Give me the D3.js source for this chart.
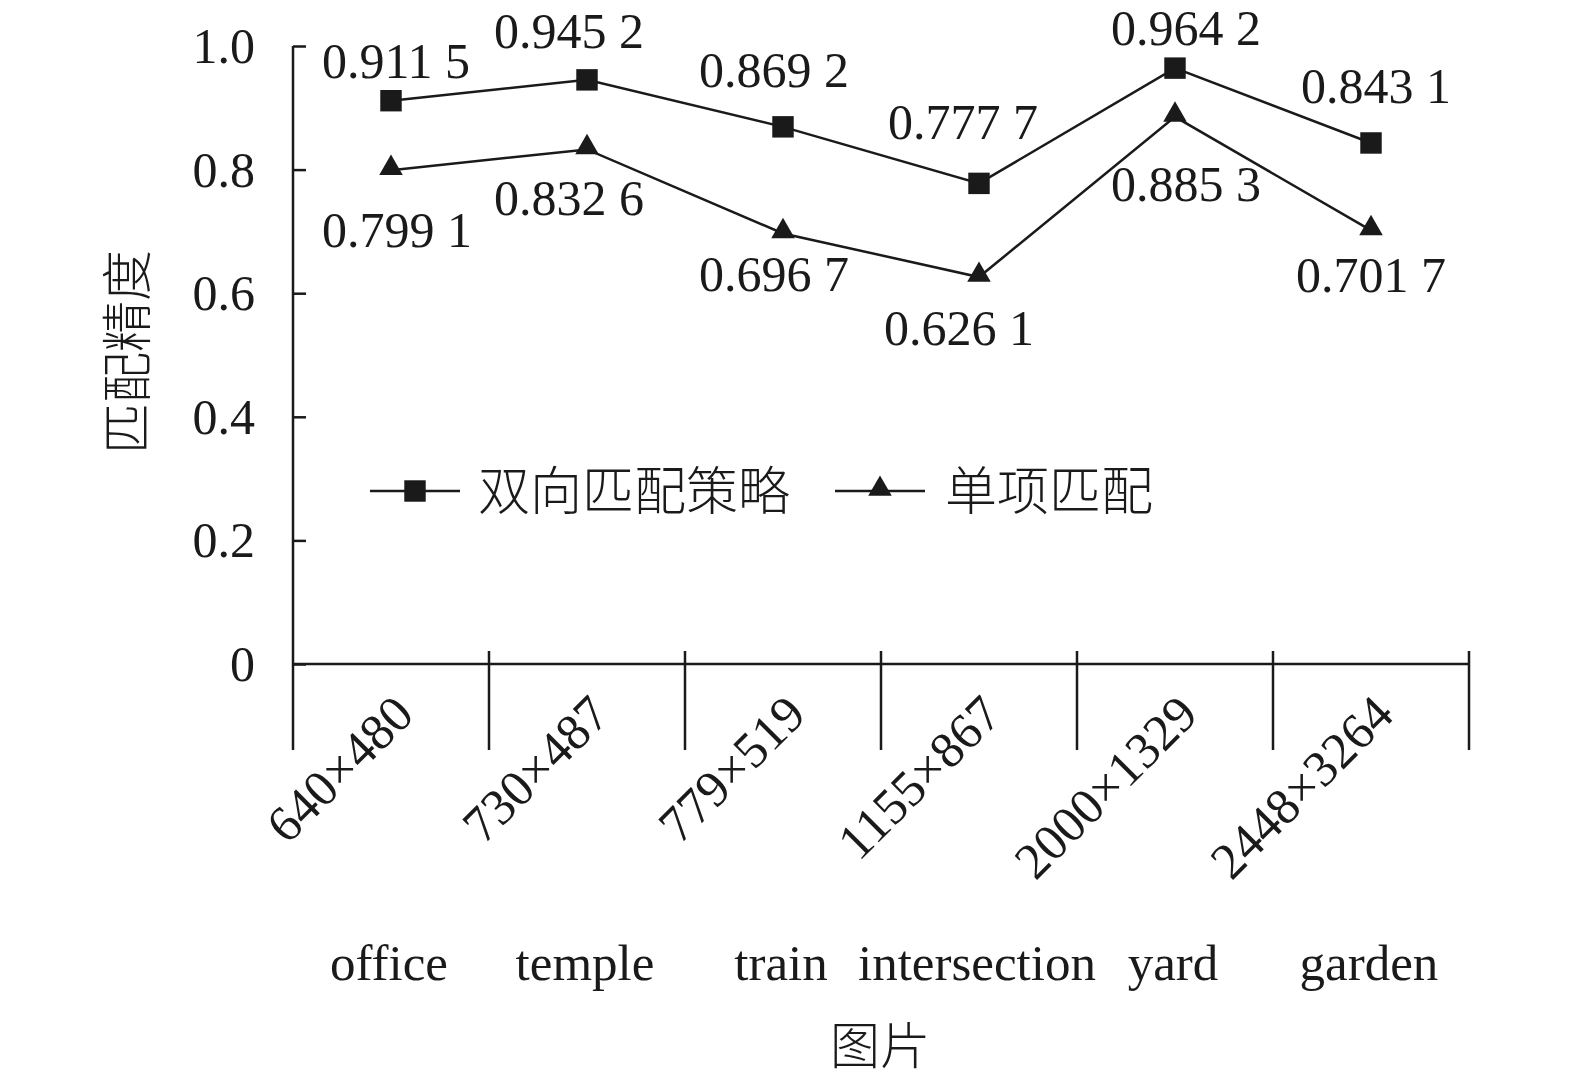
<!DOCTYPE html>
<html><head><meta charset="utf-8">
<script src="https://cdn.jsdelivr.net/npm/d3@7/dist/d3.min.js"></script>
<style>body{margin:0;background:#fff}</style>
</head><body>
<svg id="c" width="1575" height="1081"></svg>
<script>
const categories = ["office","temple","train","intersection","yard","garden"];
const sizes = ["640×480","730×487","779×519","1155×867","2000×1329","2448×3264"];
const bidirectional = [0.9115,0.9452,0.8692,0.7777,0.9642,0.8431];
const single = [0.7991,0.8326,0.6967,0.6261,0.8853,0.7017];
const yTicks = [0,0.2,0.4,0.6,0.8,1.0];
const seriesNames = ["双向匹配策略","单项匹配"];
const fmt = v => { const s = v.toFixed(4); return s.slice(0,5)+" "+s.slice(5); };
// label offsets (dx, dy) relative to the marker
const off1 = [[5,-23],[-18,-32],[-9,-40],[-16,-44],[11,-23],[5,-40]];
const off2 = [[6,77],[-18,66],[-9,58],[-20,68],[11,84],[0,62]];

const svg = d3.select("#c");
const serif = "'Liberation Serif','Times New Roman',serif";
const cjk = "'Noto Sans CJK SC',sans-serif";
const ink = "#1a1a1a";
const x = d3.scaleBand().domain(categories).range([293,1469]).padding(0);
const y = d3.scaleLinear().domain([0,1]).range([664,46]);
const cx = c => x(c) + x.bandwidth()/2;

// y axis
const ya = svg.append("g").attr("transform","translate(293,0)")
  .call(d3.axisRight(y).tickValues(yTicks).tickSize(13).tickFormat(""));
ya.select(".domain").remove();
ya.selectAll("line").attr("stroke",ink).attr("stroke-width",2.5);
svg.append("line").attr("x1",293).attr("x2",293).attr("y1",y(1)).attr("y2",750)
  .attr("stroke",ink).attr("stroke-width",2.5);
svg.selectAll(".yl").data(yTicks).join("text")
  .attr("x",255).attr("y",d=>y(d)).attr("dy","0.34em").attr("text-anchor","end")
  .attr("font-family",serif).attr("font-size",50).attr("fill",ink)
  .text(d=> d===0 ? "0" : d.toFixed(1));

// x axis
svg.append("line").attr("x1",293).attr("x2",1469).attr("y1",y(0)).attr("y2",y(0))
  .attr("stroke",ink).attr("stroke-width",2.5);
const bounds = categories.map(c=>x(c)).slice(1).concat([x(categories[5])+x.bandwidth()]);
svg.selectAll(".xt").data(bounds).join("line")
  .attr("x1",d=>d).attr("x2",d=>d).attr("y1",651).attr("y2",750)
  .attr("stroke",ink).attr("stroke-width",2.5);
svg.selectAll(".sz").data(categories).join("text")
  .attr("transform",c=>`translate(${cx(c)+25},${717}) rotate(-45)`)
  .attr("text-anchor","end")
  .attr("font-family",serif).attr("font-size",51).attr("fill",ink)
  .text((c,i)=>sizes[i]);
svg.selectAll(".cat").data(categories).join("text")
  .attr("x",c=>cx(c)-2).attr("y",980).attr("text-anchor","middle")
  .attr("font-family",serif).attr("font-size",51).attr("fill",ink)
  .text(c=>c);

// axis titles
svg.append("text").attr("x",880).attr("y",1064).attr("text-anchor","middle")
  .attr("font-family",cjk).attr("font-weight",300).attr("font-size",50).attr("fill",ink).text("图片");
svg.append("text").attr("transform","translate(146,352) rotate(-90)").attr("text-anchor","middle")
  .attr("font-family",cjk).attr("font-weight",300).attr("font-size",51).attr("fill",ink).text("匹配精度");

// lines
const line = d3.line().x((d,i)=>cx(categories[i])).y(d=>y(d));
[bidirectional,single].forEach(s=>{
  svg.append("path").datum(s).attr("d",line).attr("fill","none")
    .attr("stroke",ink).attr("stroke-width",2.5);
});
const sq = d3.symbol().type(d3.symbolSquare).size(460);
const tri = d3.symbol().type(d3.symbolTriangle).size(240);
svg.selectAll(".m1").data(bidirectional).join("path")
  .attr("d",sq).attr("transform",(d,i)=>`translate(${cx(categories[i])},${y(d)})`).attr("fill",ink);
svg.selectAll(".m2").data(single).join("path")
  .attr("d",tri).attr("transform",(d,i)=>`translate(${cx(categories[i])},${y(d)-2})`).attr("fill",ink);

// data labels
svg.selectAll(".l1").data(bidirectional).join("text")
  .attr("x",(d,i)=>cx(categories[i])+off1[i][0]).attr("y",(d,i)=>y(d)+off1[i][1])
  .attr("text-anchor","middle").attr("font-family",serif).attr("font-size",50).attr("fill",ink)
  .text(fmt);
svg.selectAll(".l2").data(single).join("text")
  .attr("x",(d,i)=>cx(categories[i])+off2[i][0]).attr("y",(d,i)=>y(d)+off2[i][1])
  .attr("text-anchor","middle").attr("font-family",serif).attr("font-size",50).attr("fill",ink)
  .text(fmt);

// legend
const lg = [{x:370, sym:sq, tx:478},{x:835, sym:tri, tx:945}];
lg.forEach((L,i)=>{
  svg.append("line").attr("x1",L.x).attr("x2",L.x+90).attr("y1",491).attr("y2",491)
    .attr("stroke",ink).attr("stroke-width",2.5);
  svg.append("path").attr("d",L.sym).attr("transform",`translate(${L.x+45},${i? 489:491})`).attr("fill",ink);
  svg.append("text").attr("x",L.tx).attr("y",491).attr("dy","0.36em")
    .attr("font-family",cjk).attr("font-weight",300).attr("font-size",52).attr("fill",ink).text(seriesNames[i]);
});
</script>
</body></html>
